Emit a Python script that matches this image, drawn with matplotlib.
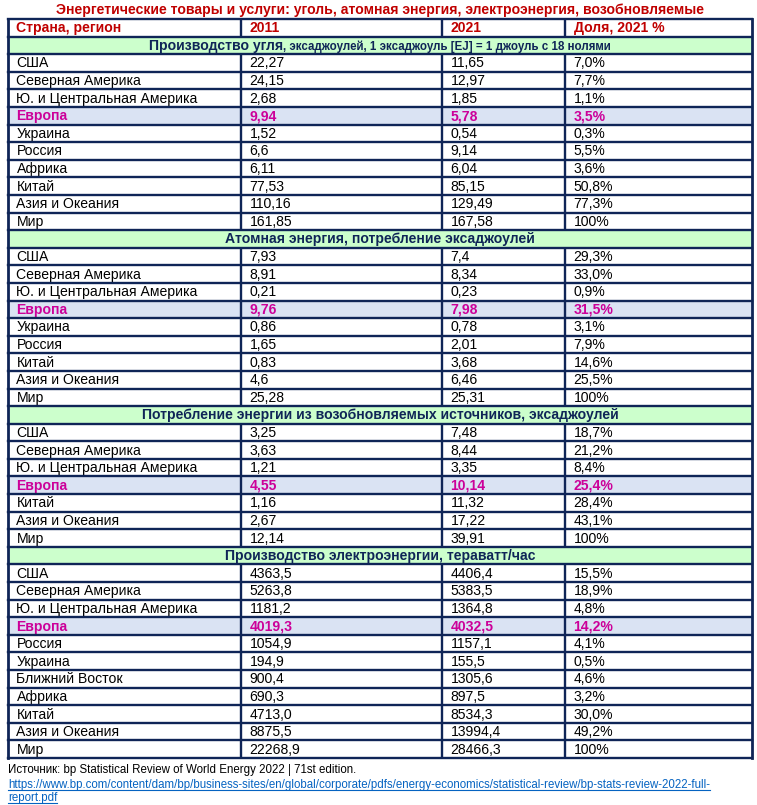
import matplotlib
matplotlib.use("Agg")
import matplotlib.pyplot as plt
from matplotlib.patches import Rectangle

plt.rcParams['font.family'] = ['Liberation Sans', 'DejaVu Sans']

title = "Энергетические товары и услуги: уголь, атомная энергия, электроэнергия, возобновляемые"
header = ["Страна, регион", "2011", "2021", "Доля, 2021 %"]

coal_title = ("Производство угля", ", эксаджоулей, 1 эксаджоуль [EJ] = 1 джоуль с 18 нолями")
coal_regions = ["США", "Северная Америка", "Ю. и Центральная Америка", "Европа", "Украина",
                "Россия", "Африка", "Китай", "Азия и Океания", "Мир"]
coal_2011 = ["22,27", "24,15", "2,68", "9,94", "1,52", "6,6", "6,11", "77,53", "110,16", "161,85"]
coal_2021 = ["11,65", "12,97", "1,85", "5,78", "0,54", "9,14", "6,04", "85,15", "129,49", "167,58"]
coal_share = ["7,0%", "7,7%", "1,1%", "3,5%", "0,3%", "5,5%", "3,6%", "50,8%", "77,3%", "100%"]

nuc_title = ("Атомная энергия, потребление эксаджоулей", "")
nuc_regions = ["США", "Северная Америка", "Ю. и Центральная Америка", "Европа", "Украина",
               "Россия", "Китай", "Азия и Океания", "Мир"]
nuc_2011 = ["7,93", "8,91", "0,21", "9,76", "0,86", "1,65", "0,83", "4,6", "25,28"]
nuc_2021 = ["7,4", "8,34", "0,23", "7,98", "0,78", "2,01", "3,68", "6,46", "25,31"]
nuc_share = ["29,3%", "33,0%", "0,9%", "31,5%", "3,1%", "7,9%", "14,6%", "25,5%", "100%"]

ren_title = ("Потребление энергии из возобновляемых источников, эксаджоулей", "")
ren_regions = ["США", "Северная Америка", "Ю. и Центральная Америка", "Европа", "Китай",
               "Азия и Океания", "Мир"]
ren_2011 = ["3,25", "3,63", "1,21", "4,55", "1,16", "2,67", "12,14"]
ren_2021 = ["7,48", "8,44", "3,35", "10,14", "11,32", "17,22", "39,91"]
ren_share = ["18,7%", "21,2%", "8,4%", "25,4%", "28,4%", "43,1%", "100%"]

el_title = ("Производство электроэнергии, тераватт/час", "")
el_regions = ["США", "Северная Америка", "Ю. и Центральная Америка", "Европа", "Россия",
              "Украина", "Ближний Восток", "Африка", "Китай", "Азия и Океания", "Мир"]
el_2011 = ["4363,5", "5263,8", "1181,2", "4019,3", "1054,9", "194,9", "900,4", "690,3",
           "4713,0", "8875,5", "22268,9"]
el_2021 = ["4406,4", "5383,5", "1364,8", "4032,5", "1157,1", "155,5", "1305,6", "897,5",
           "8534,3", "13994,4", "28466,3"]
el_share = ["15,5%", "18,9%", "4,8%", "14,2%", "4,1%", "0,5%", "4,6%", "3,2%", "30,0%",
            "49,2%", "100%"]

source_line = "Источник: bp Statistical Review of World Energy 2022 | 71st edition."
url_line1 = "https://www.bp.com/content/dam/bp/business-sites/en/global/corporate/pdfs/energy-economics/statistical-review/bp-stats-review-2022-full-"
url_line2 = "report.pdf"

sections = [
    (coal_title, coal_regions, coal_2011, coal_2021, coal_share),
    (nuc_title, nuc_regions, nuc_2011, nuc_2021, nuc_share),
    (ren_title, ren_regions, ren_2011, ren_2021, ren_share),
    (el_title, el_regions, el_2011, el_2021, el_share),
]

W, H = 757, 805
fig = plt.figure(figsize=(W / 100, H / 100), dpi=100)
ax = fig.add_axes([0, 0, 1, 1])
ax.set_xlim(0, W)
ax.set_ylim(H, 0)
ax.axis('off')

NAVY = "#0F2557"
RED = "#C00000"
MAG = "#CC0099"
GREEN_BG = "#CCFFCC"
EU_BG = "#DAE3F3"
FS = 10.1

col_x = [8, 241, 442, 565, 752]
text_off = 8.5
top = 19
bottom = 758

rows = [("header", header)]
for st, regs, a, b, c in sections:
    rows.append(("section", st))
    for i in range(len(regs)):
        rows.append(("data", [regs[i], a[i], b[i], c[i]]))
n = len(rows)
rh = (bottom - top) / n

ax.text(380, 9.8, title, ha='center', va='center', fontsize=FS, fontweight='bold', color=RED)

for r, (kind, content) in enumerate(rows):
    y0 = top + r * rh
    yc = y0 + rh / 2 + 0.5
    if kind == "section":
        ax.add_patch(Rectangle((col_x[0], y0), col_x[-1] - col_x[0], rh, facecolor=GREEN_BG,
                               edgecolor='none', zorder=1))
        main, sub = content
        if sub:
            t1 = ax.text(0, yc, main, ha='left', va='center', fontsize=FS, fontweight='bold', color=NAVY)
            t2 = ax.text(0, yc + 0.5, sub, ha='left', va='center', fontsize=8.3, fontweight='bold', color=NAVY)
            fig.canvas.draw()
            r1 = fig.canvas.get_renderer()
            w1 = t1.get_window_extent(r1).width
            w2 = t2.get_window_extent(r1).width
            start = (col_x[0] + col_x[-1]) / 2 - (w1 + w2) / 2
            t1.set_x(start)
            t2.set_x(start + w1)
        else:
            ax.text((col_x[0] + col_x[-1]) / 2, yc, main, ha='center', va='center', fontsize=FS,
                    fontweight='bold', color=NAVY)
        continue
    is_eu = kind == "data" and content[0] == "Европа"
    if is_eu:
        ax.add_patch(Rectangle((col_x[0], y0), col_x[-1] - col_x[0], rh, facecolor=EU_BG,
                               edgecolor='none', zorder=1))
    for c in range(4):
        if kind == "header":
            color, weight = RED, 'bold'
        elif is_eu:
            color, weight = MAG, 'bold'
        else:
            color, weight = 'black', 'normal'
        ax.text(col_x[c] + text_off, yc, content[c], ha='left', va='center', fontsize=FS,
                fontweight=weight, color=color, zorder=3)
    for x in col_x[1:-1]:
        ax.plot([x, x], [y0, y0 + rh], color=NAVY, lw=1.7, zorder=4, solid_capstyle='butt')

for r in range(n + 1):
    y = top + r * rh
    ax.plot([col_x[0], col_x[-1]], [y, y], color=NAVY, lw=1.7, zorder=4, solid_capstyle='projecting')
for x in (col_x[0], col_x[-1]):
    ax.plot([x, x], [top, bottom], color=NAVY, lw=2.0, zorder=4, solid_capstyle='projecting')

FF = 8.3
ax.text(8, 770, source_line, ha='left', va='center', fontsize=FF, color='black')
ax.text(8, 785, url_line1, ha='left', va='center', fontsize=FF, color='#0563C1')
ax.text(8, 798, url_line2, ha='left', va='center', fontsize=FF, color='#0563C1')
fig.canvas.draw()
rend = fig.canvas.get_renderer()
inv = ax.transData.inverted()
for t in ax.texts[-2:]:
    bb = t.get_window_extent(rend)
    (x0, yb), (x1, _) = inv.transform([(bb.x0, bb.y0), (bb.x1, bb.y1)])
    ax.plot([x0, x1], [yb - 1.0, yb - 1.0], color='#0563C1', lw=0.8)

fig.savefig("out.png", dpi=100)
